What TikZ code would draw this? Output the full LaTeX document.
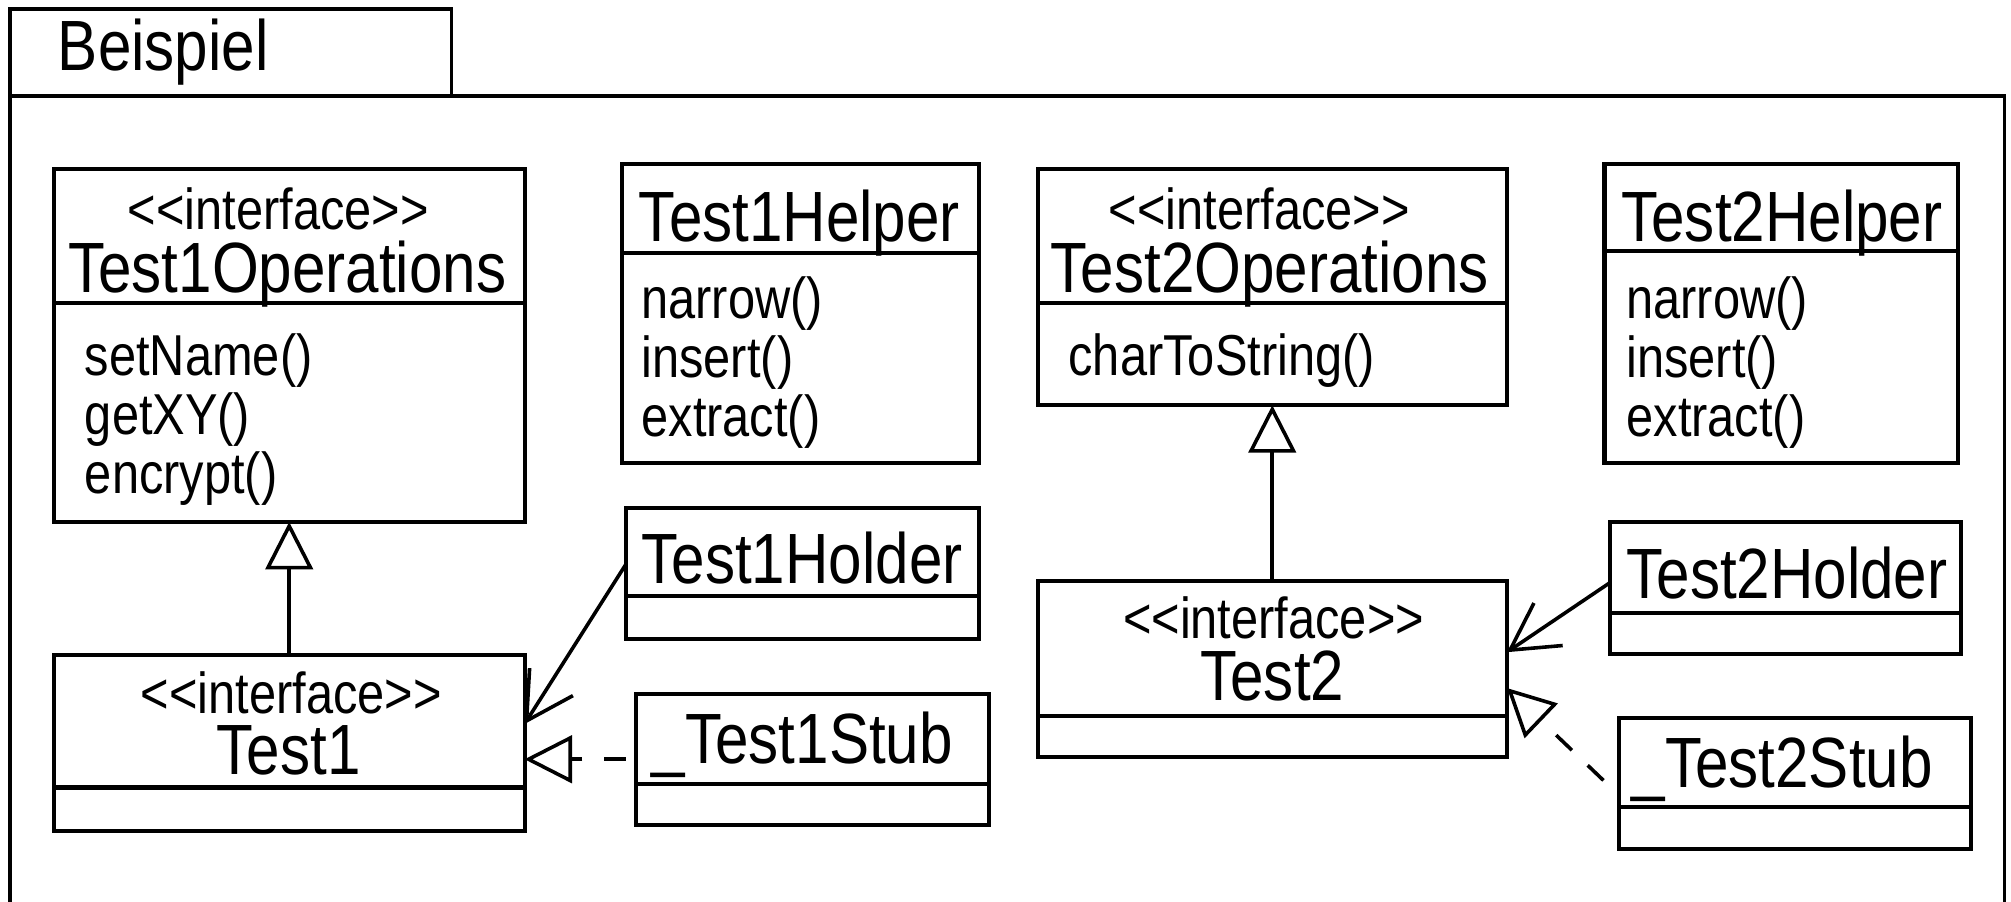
\documentclass[tikz,border=0pt]{standalone}
\usepackage{fontspec}
\setmainfont{Liberation Sans}[FakeStretch=0.845]
\usetikzlibrary{arrows.meta}
% stereotype brackets, kept apart so they are not joined into guillemets
\newcommand\stereo[1]{<\kern0pt<#1>\kern0pt>}
\begin{document}
\begin{tikzpicture}[x=1pt,y=-1pt,
  cls/.style={draw, line width=3.2pt, inner sep=0pt, outer sep=0pt, anchor=north west},
  divline/.style={line width=3.2pt},
  frameline/.style={line width=2.8pt},
  bigtxt/.style={inner sep=0pt, font=\fontsize{55.5}{60}\selectfont},
  smalltxt/.style={inner sep=0pt, font=\fontsize{45}{46}\selectfont},
  gen/.style={line width=2.8pt, -{Triangle[open, length=37pt, width=37pt]}},
  realize/.style={gen, dash pattern=on 17pt off 17pt, dash phase=26pt},
  assoc/.style={line width=2.8pt, -{Straight Barb[length=36pt, width=40pt]}},
]
\useasboundingbox (0,0) rectangle (1568,703);
\clip (0,0) rectangle (1568,703);

% package frame with tab
\draw[frameline] (8,75) rectangle (1563,780);
\draw[frameline] (8,7) rectangle (352,75);
\node[bigtxt, anchor=base west] (pkg) at (45,55) {Beispiel};

% Test1Operations
\node[cls, minimum width=367pt, minimum height=275pt] (t1ops) at (42,132) {};
\draw[divline] (t1ops.west |- 0,236) -- (t1ops.east |- 0,236);
\node[smalltxt, anchor=base] (t1opsst) at (217,179) {\stereo{interface}};
\node[bigtxt, anchor=base] (t1opsnm) at (224,228) {Test1Operations};
\node[smalltxt, anchor=base west] (t1opsm1) at (66,293) {setName()};
\node[smalltxt, anchor=base west] (t1opsm2) at (66,339) {getXY()};
\node[smalltxt, anchor=base west] (t1opsm3) at (66,385) {encrypt()};

% Test1Helper
\node[cls, minimum width=278pt, minimum height=233pt] (t1help) at (485,128) {};
\draw[divline] (t1help.west |- 0,197) -- (t1help.east |- 0,197);
\node[bigtxt, anchor=base west] (t1helpnm) at (498,188) {Test1Helper};
\node[smalltxt, anchor=base west] (t1helpm1) at (500,248) {narrow()};
\node[smalltxt, anchor=base west] (t1helpm2) at (500,294) {insert()};
\node[smalltxt, anchor=base west] (t1helpm3) at (500,340) {extract()};

% Test2Operations
\node[cls, minimum width=366pt, minimum height=184pt] (t2ops) at (809,132) {};
\draw[divline] (t2ops.west |- 0,236) -- (t2ops.east |- 0,236);
\node[smalltxt, anchor=base] (t2opsst) at (982,179) {\stereo{interface}};
\node[bigtxt, anchor=base] (t2opsnm) at (990,228) {Test2Operations};
\node[smalltxt, anchor=base west] (t2opsm1) at (833,293) {charToString()};

% Test2Helper
\node[cls, minimum width=276pt, minimum height=233pt] (t2help) at (1251,128) {};
\draw[divline] (t2help.west |- 0,196) -- (t2help.east |- 0,196);
\node[bigtxt, anchor=base west] (t2helpnm) at (1264,188) {Test2Helper};
\node[smalltxt, anchor=base west] (t2helpm1) at (1268,248) {narrow()};
\node[smalltxt, anchor=base west] (t2helpm2) at (1268,294) {insert()};
\node[smalltxt, anchor=base west] (t2helpm3) at (1268,340) {extract()};

% Test1Holder
\node[cls, minimum width=275pt, minimum height=102pt] (t1hold) at (488,396) {};
\draw[divline] (t1hold.west |- 0,465) -- (t1hold.east |- 0,465);
\node[bigtxt, anchor=base west] (t1holdnm) at (500,455) {Test1Holder};

% Test1
\node[cls, minimum width=367pt, minimum height=137pt] (t1) at (42,511) {};
\draw[divline] (t1.west |- 0,614) -- (t1.east |- 0,614);
\node[smalltxt, anchor=base] (t1st) at (227,556) {\stereo{interface}};
\node[bigtxt, anchor=base] (t1nm) at (225,604) {Test1};

% _Test1Stub
\node[cls, minimum width=275pt, minimum height=102pt] (t1stub) at (496,541) {};
\draw[divline] (t1stub.west |- 0,611) -- (t1stub.east |- 0,611);
\node[bigtxt, anchor=base west] (t1stubnm) at (508,595) {\_Test1Stub};

% Test2
\node[cls, minimum width=366pt, minimum height=137pt] (t2) at (809,453) {};
\draw[divline] (t2.west |- 0,558) -- (t2.east |- 0,558);
\node[smalltxt, anchor=base] (t2st) at (993,498) {\stereo{interface}};
\node[bigtxt, anchor=base] (t2nm) at (992,546) {Test2};

% Test2Holder
\node[cls, minimum width=274pt, minimum height=103pt] (t2hold) at (1255,407) {};
\draw[divline] (t2hold.west |- 0,478) -- (t2hold.east |- 0,478);
\node[bigtxt, anchor=base west] (t2holdnm) at (1268,467) {Test2Holder};

% _Test2Stub
\node[cls, minimum width=275pt, minimum height=102pt] (t2stub) at (1262,560) {};
\draw[divline] (t2stub.west |- 0,629) -- (t2stub.east |- 0,629);
\node[bigtxt, anchor=base west] (t2stubnm) at (1272,614) {\_Test2Stub};

% relations
\draw[gen] (t1.north) -- (t1ops.south);
\draw[gen] (t2.north) -- (t2ops.south);
\draw[assoc] ([yshift=7pt]t1hold.west) -- ([yshift=15pt]t1.east);
\draw[realize] (t1stub.west) -- (t1stub.west -| t1.east);
\draw[assoc] ([yshift=4pt]t2hold.west) -- ([yshift=13pt]t2.east);
\draw[realize] ([xshift=-6pt,yshift=-3pt]t2stub.west) -- ([yshift=-15pt]t2.east);
\end{tikzpicture}
\end{document}
